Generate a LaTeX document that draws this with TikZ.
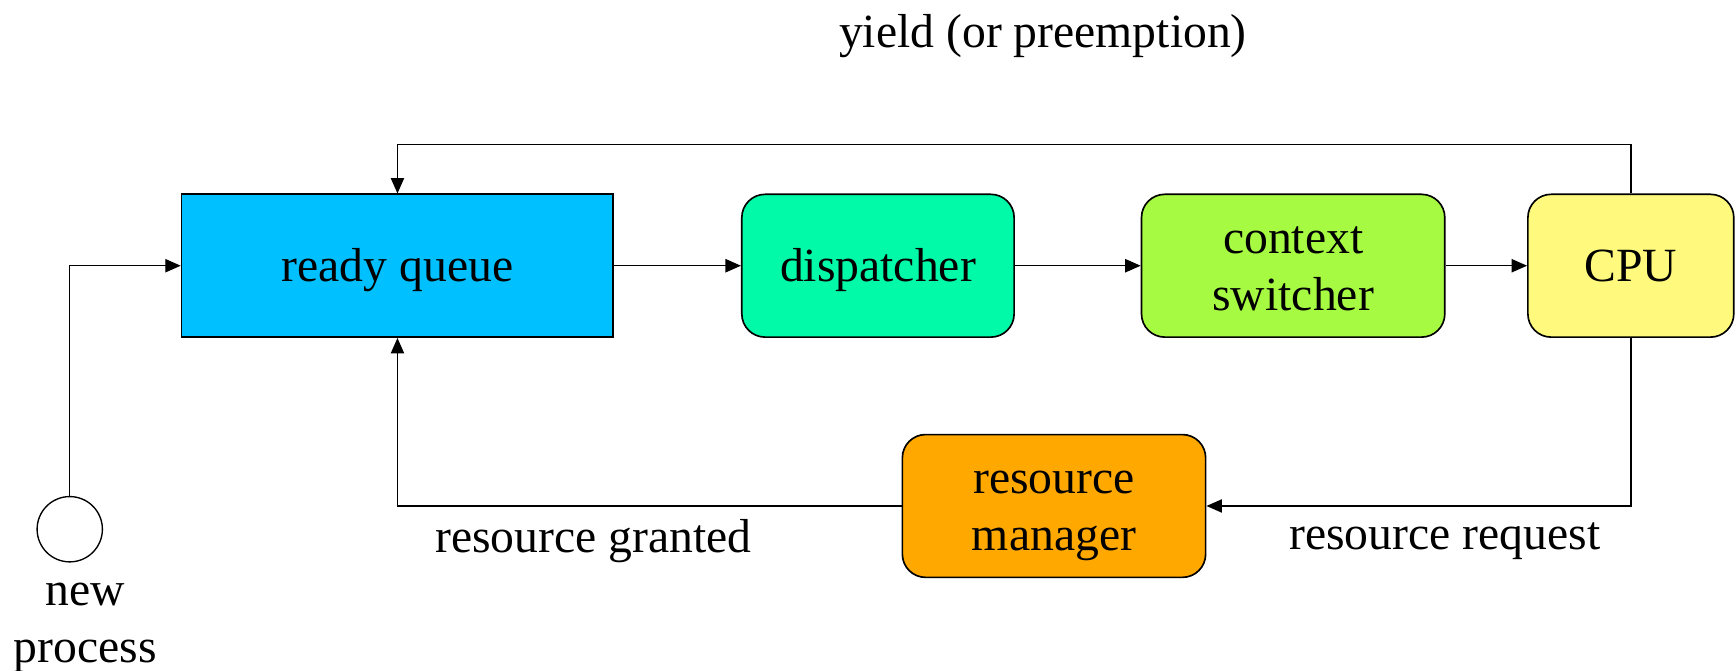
\documentclass[tikz,border=0pt]{standalone}
\usepackage{fontspec}
\setmainfont{Liberation Serif}
\usetikzlibrary{positioning,arrows.meta}

\definecolor{queueblue}{RGB}{0,192,255}
\definecolor{dispgreen}{RGB}{0,250,168}
\definecolor{ctxgreen}{RGB}{166,250,66}
\definecolor{cpuyellow}{RGB}{255,250,125}
\definecolor{resorange}{RGB}{255,168,0}

% line strut, keeps box text sitting a bit low like the slides
\newcommand{\ls}{\rule[-6.5pt]{0pt}{29.5pt}}

\tikzset{
    every node/.style={font=\fontsize{24.5}{29.5}\selectfont},
    block/.style={draw, line width=0.85pt, minimum height=2.58cm, align=center},
    rblock/.style={block, rounded corners=0.42cm},
    conn/.style={line width=0.7pt, -{Triangle[length=0.28cm,width=0.24cm]}}
}

\begin{document}
\begin{tikzpicture}[x=0.02cm, y=-0.02cm]
    \useasboundingbox (0,0) rectangle (1568,606);

    % top row
    \node[block, fill=queueblue, minimum width=7.8cm] (ready) at (359,240) {\ls ready queue};
    \node[rblock, fill=dispgreen, minimum width=4.92cm] (disp) at (793,240) {\ls dispatcher};
    \node[rblock, fill=ctxgreen, minimum width=5.48cm] (ctx) at (1168,240) {\ls context\\\ls switcher};
    \node[rblock, fill=cpuyellow, minimum width=3.72cm] (cpu) at (1473,240) {\ls CPU};

    % bottom row
    \node[rblock, fill=resorange, minimum width=5.48cm] (res) at (952,457) {\ls resource\\\ls manager};
    \node[draw, circle, line width=0.7pt, minimum size=1.18cm, inner sep=0pt] (newp) at (63,478) {};
    \node[align=center] (newlbl) at (77,567) {new\\process};

    % labels
    \node (yield) at (942,33) {yield (or preemption)};
    \node (grant) at (536,489) {resource granted};
    \node (req) at (1305,489) {resource request};

    % connectors
    \draw[conn] (newp.north) |- (ready.west);
    \draw[conn] (ready) -- (disp);
    \draw[conn] (disp) -- (ctx);
    \draw[conn] (ctx) -- (cpu);
    \draw[conn] (cpu.north) -- ++(0,-44) -| (ready.north);
    \draw[conn] (cpu.south) |- (res.east);
    \draw[conn] (res.west) -| (ready.south);
\end{tikzpicture}
\end{document}
